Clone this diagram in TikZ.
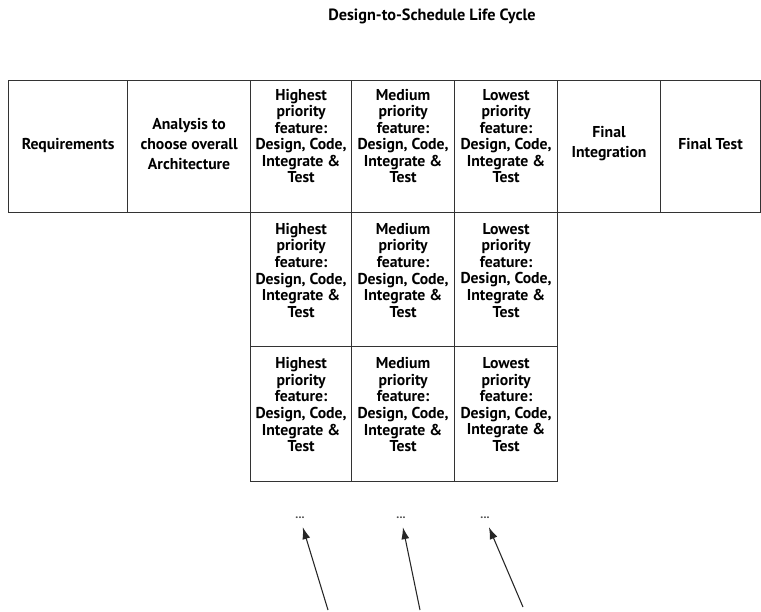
\documentclass[tikz,border=0pt]{standalone}
\usepackage{fontspec}
\setmainfont{PT Sans}
\usetikzlibrary{arrows.meta}
\begin{document}
\begin{tikzpicture}[x=0.75pt,y=-0.75pt,
  cell/.style={draw=black!80,line width=0.9pt,anchor=north west,inner sep=0pt},
  txt/.style={inner sep=0pt,align=center,font=\bfseries\fontsize{11.8}{12.4}\selectfont},
  widetxt/.style={txt,font=\bfseries\fontsize{11.8}{14.8}\selectfont},
  dots/.style={inner sep=5pt,font=\bfseries\fontsize{9}{10}\selectfont,text=black!70},
  pointer/.style={draw=black!85,line width=0.8pt,shorten >=1pt,-{Latex[length=9pt,width=6pt]}}]
\useasboundingbox (0,0) rectangle (761,611);

% title
\node[font=\bfseries\fontsize{12.2}{14}\selectfont] (title) at (432,16) {Design-to-Schedule Life Cycle};

% column edges: 8, 127, 250, 351, 454, 557, 660, 760 ; row edges: 80, 212, 346, 481
\newcommand{\feat}[1]{#1\\priority\\feature:\\Design, Code,\\Integrate \&\\Test}

% first row
\node[cell,minimum width=119pt*0.75,minimum height=132pt*0.75] (req) at (8,80) {};
\node[cell,minimum width=123pt*0.75,minimum height=132pt*0.75] (ana) at (127,80) {};
\node[cell,minimum width=101pt*0.75,minimum height=132pt*0.75] (h1) at (250,80) {};
\node[cell,minimum width=103pt*0.75,minimum height=132pt*0.75] (m1) at (351,80) {};
\node[cell,minimum width=103pt*0.75,minimum height=132pt*0.75] (l1) at (454,80) {};
\node[cell,minimum width=103pt*0.75,minimum height=132pt*0.75] (fi) at (557,80) {};
\node[cell,minimum width=100pt*0.75,minimum height=132pt*0.75] (ft) at (660,80) {};
\node[txt] (reqT) at ([yshift=1pt]req.center) {Requirements};
\node[widetxt] (anaT) at ([yshift=2pt]ana.center) {Analysis to\\choose overall\\Architecture};
\node[txt] (h1T) at ([yshift=8pt]h1.center) {\feat{Highest}};
\node[txt] (m1T) at ([yshift=8pt]m1.center) {\feat{Medium}};
\node[txt] (l1T) at ([yshift=8pt]l1.center) {\feat{Lowest}};
\node[widetxt] (fiT) at ([yshift=2pt]fi.center) {Final\\Integration};
\node[txt] (ftT) at ([yshift=2pt]ft.center) {Final Test};

% second row
\node[cell,minimum width=101pt*0.75,minimum height=134pt*0.75] (h2) at (250,212) {};
\node[cell,minimum width=103pt*0.75,minimum height=134pt*0.75] (m2) at (351,212) {};
\node[cell,minimum width=103pt*0.75,minimum height=134pt*0.75] (l2) at (454,212) {};
\node[txt] (h2T) at ([yshift=7pt]h2.center) {\feat{Highest}};
\node[txt] (m2T) at ([yshift=7pt]m2.center) {\feat{Medium}};
\node[txt] (l2T) at ([yshift=7pt]l2.center) {\feat{Lowest}};

% third row
\node[cell,minimum width=101pt*0.75,minimum height=135pt*0.75] (h3) at (250,346) {};
\node[cell,minimum width=103pt*0.75,minimum height=135pt*0.75] (m3) at (351,346) {};
\node[cell,minimum width=103pt*0.75,minimum height=135pt*0.75] (l3) at (454,346) {};
\node[txt] (h3T) at ([yshift=7pt]h3.center) {\feat{Highest}};
\node[txt] (m3T) at ([yshift=7pt]m3.center) {\feat{Medium}};
\node[txt] (l3T) at ([yshift=7pt]l3.center) {\feat{Lowest}};

% continuation marks and pointers
\node[dots] (d1) at (300,518) {...};
\node[dots] (d2) at (401,518) {...};
\node[dots] (d3) at (485,518) {...};
\coordinate (a1) at (328,610);
\coordinate (a2) at (420,610);
\coordinate (a3) at (523,607);
\draw[pointer] (a1) -- (d1);
\draw[pointer] (a2) -- (d2);
\draw[pointer] (a3) -- (d3);
\end{tikzpicture}
\end{document}
